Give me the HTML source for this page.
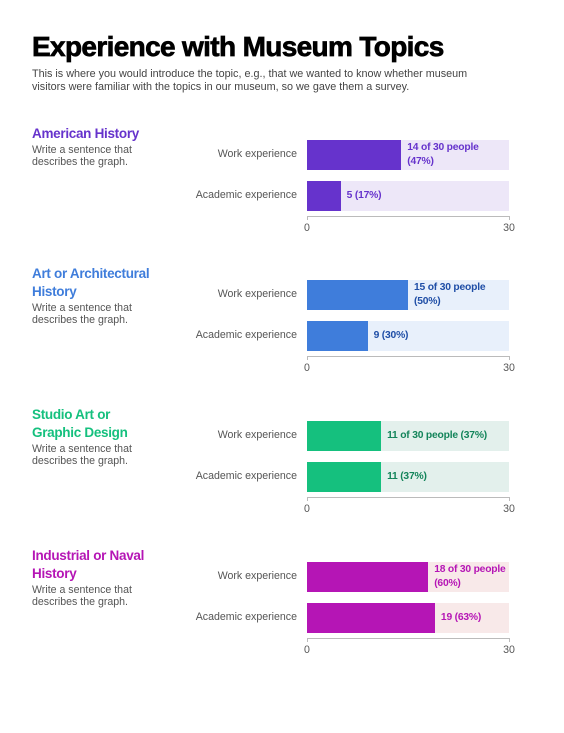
<!DOCTYPE html>
<html><head><meta charset="utf-8">
<style>
body{margin:0;width:564px;height:733px;background:#fff;font-family:"Liberation Sans",sans-serif;position:relative;overflow:hidden}
.abs{position:absolute}
h1{position:absolute;left:32px;top:31px;margin:0;font-size:28px;font-weight:900;letter-spacing:-0.65px;color:#000;-webkit-text-stroke:0.7px #000}
.sub{left:32px;top:68px;font-size:10.8px;line-height:13px;color:#444;width:445px}
.st{left:32px;font-size:13.5px;font-weight:bold;line-height:18px;letter-spacing:-0.3px}
.sd{left:32px;font-size:10.6px;line-height:12px;color:#555}
.cat{font-size:10.6px;color:#555;text-align:right;width:200px;left:97px}
.lbl{font-size:10.3px;font-weight:bold;line-height:14px;letter-spacing:-0.2px}
.tick{font-size:10.6px;color:#555}
</style></head><body>
<h1>Experience with Museum Topics</h1>
<div class="abs sub">This is where you would introduce the topic, e.g., that we wanted to know whether museum visitors were familiar with the topics in our museum, so we gave them a survey.</div>
<div id="root"></div>
<script>
const topics=["American History","Art or Architectural History","Studio Art or Graphic Design","Industrial or Naval History"];
const workValues=[14,15,11,18];
const academicValues=[5,9,11,19];
const total=30;
const tickValues=[0,30];
const categories=["Work experience","Academic experience"];
const styles=[
 {c:"#6633cc",bg:"#ede7f8",t:"#6633cc"},
 {c:"#3f7ddb",bg:"#e8f0fb",t:"#1f4ea6"},
 {c:"#15c07e",bg:"#e3f0ec",t:"#13845a"},
 {c:"#b515b5",bg:"#f8e9e9",t:"#b515b5"}];
const tops=[140,280,421,562];
const x0=307,x1=509;
const xs=v=>x0+(v/total)*(x1-x0);
const root=document.getElementById('root');
function mk(cls,style,html){const d=document.createElement('div');d.className='abs '+cls;d.style.cssText=style;if(html!=null)d.innerHTML=html;root.appendChild(d);return d;}
topics.forEach((t,i)=>{
 const top=tops[i],s=styles[i];
 const title=mk('st',`top:${top-15}px;color:${s.c};width:150px`,t.replace("Architectural ","Architectural<br>").replace("or Graphic","or<br>Graphic").replace("Naval ","Naval<br>"));
 
 
 const lines=(t.length>18)?2:1;
 const desc=mk('sd',`top:${top-15+lines*18+1}px`,'Write a sentence that<br>describes the graph.');
 
 
 [workValues[i],academicValues[i]].forEach((v,j)=>{
  const y=top+j*41;
  const c=mk('cat',`top:${y+8}px`,categories[j]);
  
  
  const bg=mk('',`left:${x0}px;top:${y}px;width:${x1-x0}px;height:30px;background:${s.bg}`);
  
  
  const b=mk('',`left:${x0}px;top:${y}px;width:${xs(v)-x0}px;height:30px;background:${s.c}`);
  
  
  const pct=Math.round(v/total*100);
  let txt;
  if(j==0){txt=`${v} of ${total} people (${pct}%)`;}else{txt=`${v} (${pct}%)`;}
  const l=mk('lbl',`left:${xs(v)+6}px;top:${y+1}px;height:28px;display:flex;align-items:center;color:${s.t};width:${Math.max(x1-xs(v)-8,82)}px`,'<span>'+txt+'</span>');
  
  
 });
 const ay=top+76;
 const ax=mk('',`left:${x0}px;top:${ay}px;width:${x1-x0}px;height:1px;background:#bbb`);
 
 
 tickValues.forEach(v=>{
  const tk=mk('',`left:${xs(v)}px;top:${ay}px;width:1px;height:4px;background:#bbb`);
  
  
  const tl=mk('tick',`left:${xs(v)-15}px;width:30px;text-align:center;top:${ay+6}px`,String(v));
  
  
 });
});
</script>
</body></html>
